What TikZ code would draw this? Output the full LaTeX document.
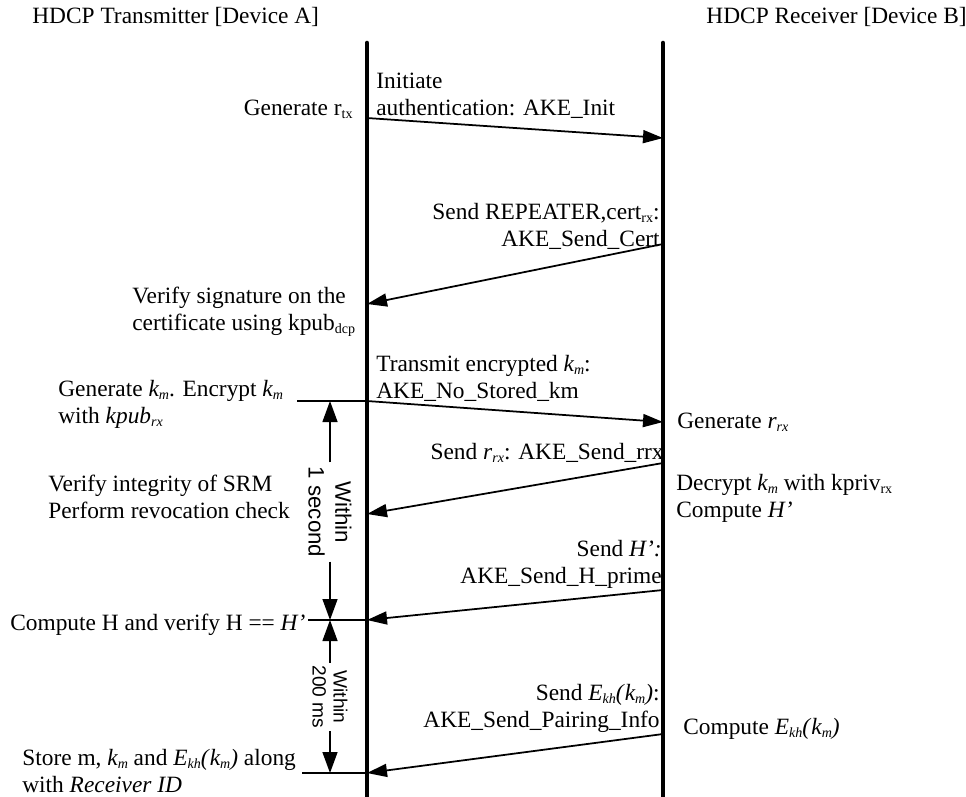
\documentclass[tikz,border=0pt]{standalone}
\usepackage{fontspec}
\setmainfont{Liberation Serif}
\newfontfamily\spanfont{Liberation Sans}
\usetikzlibrary{arrows.meta}
\newcommand{\lowsub}[1]{\raisebox{-0.3ex}{\fontsize{8}{9}\selectfont #1}}
\newcommand{\km}{\textit{k\lowsub{m}}}
\newcommand{\Ekh}{\textit{E\lowsub{kh}(}\km\textit{)}}
\tikzset{
  lifeline/.style={line width=2.6pt, line cap=round},
  msg/.style={line width=1pt, -{Triangle[length=0.4cm,width=0.26cm]}},
  tick/.style={line width=0.8pt},
  spantip/.style={line width=0.8pt, -{Triangle[length=0.42cm,width=0.3cm]}},
  lbl/.style={inner sep=0pt, font=\fontsize{13.3}{15.3}\selectfont},
}

\begin{document}
\begin{tikzpicture}[x=0.02cm, y=-0.02cm]
			%%%%% START %%%%%
			\useasboundingbox (0, 0) rectangle (966, 796);
			
			\node[lbl, anchor=base west] (hdA) at (32, 23) {HDCP Transmitter [Device A]};
			\node[lbl, anchor=base east] (hdB) at (967, 23) {HDCP Receiver [Device B]};
			
			\coordinate (la0) at (367, 43);
			\coordinate (la1) at (367, 800);
			\coordinate (lb0) at (663, 43);
			\coordinate (lb1) at (663, 800);
			\draw[lifeline] (la0) -- (la1);
			\draw[lifeline] (lb0) -- (lb1);
			
			\coordinate (a1) at (367, 118);
			\coordinate (b1) at (663, 138);
			\coordinate (b2) at (663, 244);
			\coordinate (a2) at (367, 304);
			\coordinate (a3) at (367, 401);
			\coordinate (b3) at (663, 422);
			\coordinate (b4) at (663, 463);
			\coordinate (a4) at (367, 514);
			\coordinate (b5) at (663, 590);
			\coordinate (a5) at (367, 620);
			\coordinate (b6) at (663, 734);
			\coordinate (a6) at (367, 773);
			
			\draw[msg] (a1) -- (b1);
			\draw[msg] (b2) -- (a2);
			\draw[msg] (a3) -- (b3);
			\draw[msg] (b4) -- (a4);
			\draw[msg] (b5) -- (a5);
			\draw[msg] (b6) -- (a6);
			
			% multi-line labels sit on the baseline of their last line
			\node[lbl, anchor=base east] (genrtx) at (353, 115) {Generate r\lowsub{tx}};
			\node[lbl, anchor=base west, align=left] (init) at (376, 115) {Initiate\\authentication: AKE\_Init};
			\node[lbl, anchor=base east, align=right] (cert) at (660, 246) {Send REPEATER,cert\lowsub{rx}:\\AKE\_Send\_Cert};
			\node[lbl, anchor=base west, align=left] (verify) at (132, 330) {Verify signature on the\\certificate using kpub\lowsub{dcp}};
			\node[lbl, anchor=base west, align=left] (transmit) at (376, 398) {Transmit encrypted \km:\\AKE\_No\_Stored\_km};
			\node[lbl, anchor=base west, align=left] (genkm) at (58, 423) {Generate \km. Encrypt \km\\with \textit{kpub\lowsub{rx}}};
			\node[lbl, anchor=base west] (genrrx) at (677, 428) {Generate \textit{r\lowsub{rx}}};
			\node[lbl, anchor=base east] (sendrrx) at (664, 459) {Send \textit{r\lowsub{rx}}: AKE\_Send\_rrx};
			\node[lbl, anchor=base west, align=left] (decrypt) at (676, 517) {Decrypt \km{} with kpriv\lowsub{rx}\\Compute \textit{H'}};
			\node[lbl, anchor=base west, align=left] (srm) at (48, 518) {Verify integrity of SRM\\Perform revocation check};
			\node[lbl, anchor=base east, align=right] (sendH) at (662, 583) {Send \textit{H':}\\AKE\_Send\_H\_prime};
			\node[lbl, anchor=base west] (computeH) at (10, 630) {Compute H and verify H == \textit{H'}};
			\node[lbl, anchor=base east, align=right] (sendE) at (660, 727) {Send \Ekh:\\AKE\_Send\_Pairing\_Info};
			\node[lbl, anchor=base west] (computeE) at (683, 734) {Compute \Ekh};
			\node[lbl, anchor=base west, align=left] (store) at (22, 792) {Store m, \km{} and \Ekh{} along\\with \textit{Receiver ID}};
			
			% time limits
			\coordinate (t1) at (297, 401);
			\coordinate (t2) at (308, 620);
			\coordinate (t3) at (302, 773);
			\draw[tick] (t1) -- (a3);
			\draw[tick] (t2) -- (a5);
			\draw[tick] (t3) -- (a6);
			
			\coordinate (d1) at (330, 401);
			\coordinate (d2) at (330, 620);
			\coordinate (d3) at (330, 773);
			\node[rotate=-90, align=center, inner xsep=2.3pt, inner ysep=0pt,
			      font=\spanfont\fontsize{12.7}{15.3}\selectfont] (w1) at (330, 512) {Within\\1 second};
			\node[rotate=-90, align=center, inner xsep=1.5pt, inner ysep=0pt,
			      font=\spanfont\fontsize{10.9}{12}\selectfont] (w2) at (330, 697) {Within\\200 ms};
			\draw[spantip] (w1.west) -- (d1);
			\draw[spantip] (w1.east) -- (d2);
			\draw[spantip] (w2.west) -- (d2);
			\draw[spantip] (w2.east) -- (d3);
			%%%%% END %%%%%
\end{tikzpicture}
\end{document}
